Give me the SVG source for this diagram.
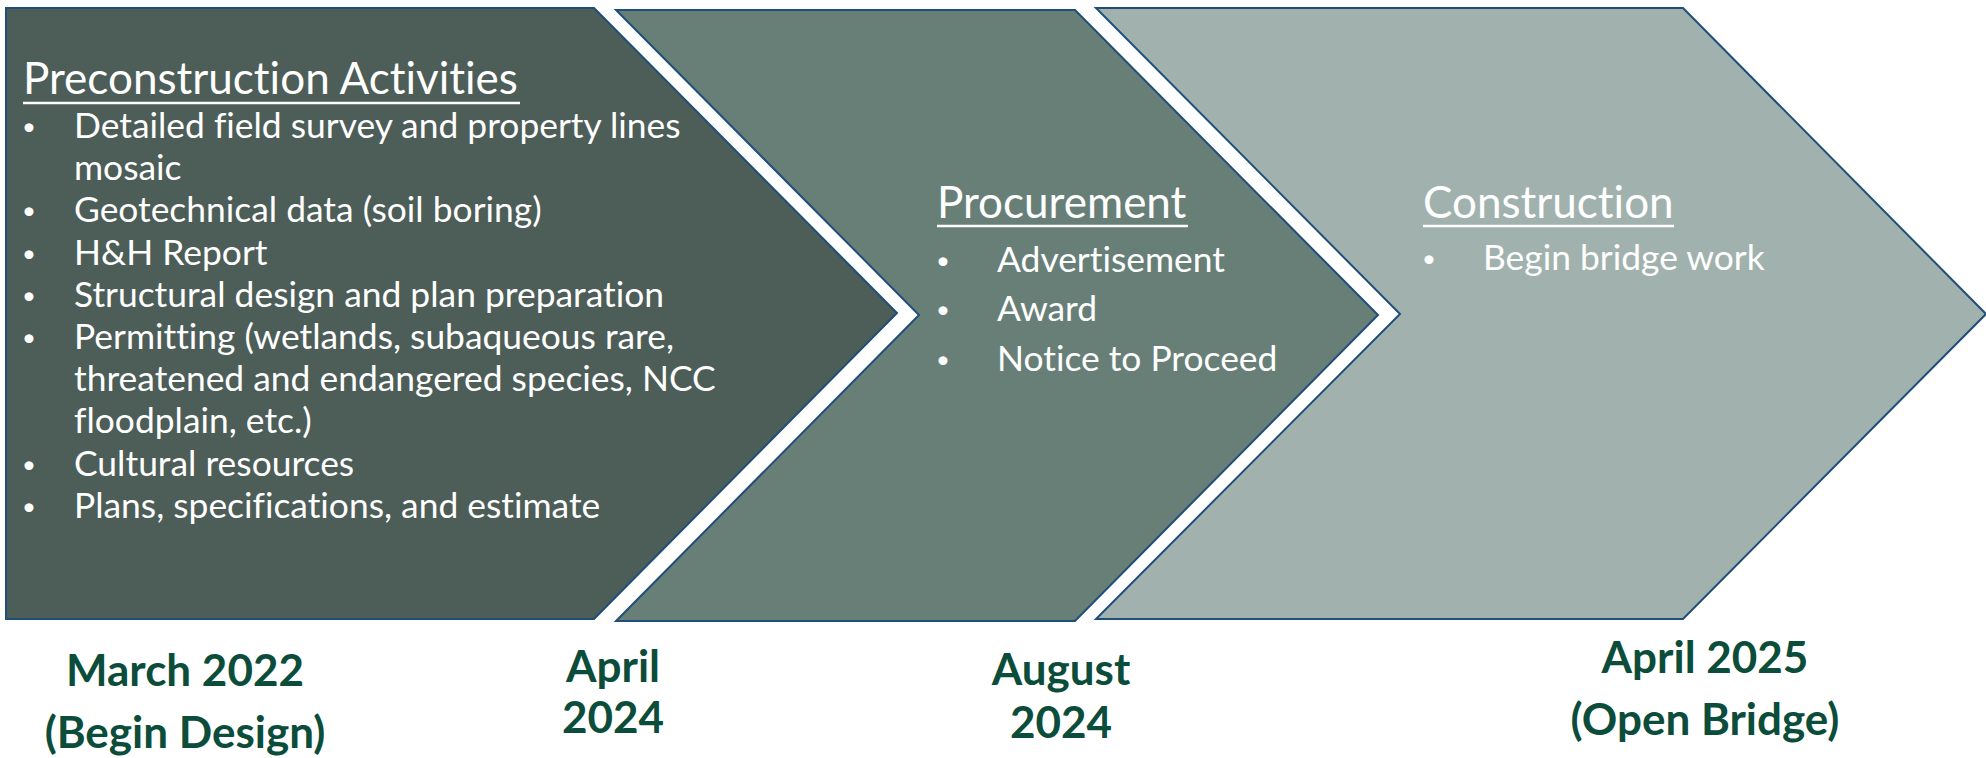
<svg xmlns="http://www.w3.org/2000/svg" width="1986" height="758" viewBox="0 0 1986 758">
<style>
.chev{stroke:#1f4e79;stroke-width:2;stroke-linejoin:miter}
.t{font-family:Lato,"Liberation Sans",sans-serif;fill:#ffffff;font-variant-ligatures:none;font-feature-settings:"liga" 0}
.h{font-size:44px}
.b{font-size:35.4px}
.bu{font-size:24px;text-anchor:middle}
.ul{stroke:#ffffff;stroke-width:2.5}
.d{font-family:Lato,"Liberation Sans",sans-serif;font-weight:700;font-size:44px;fill:#0b4d3a;text-anchor:middle}
</style>
<rect width="1986" height="758" fill="#ffffff"/>
<g id="preconstruction">
<path class="chev" fill="#4d5d58" d="M6,8 L594,8 L897,313 L594,619 L6,619 Z"/>
<text class="t h" x="23" y="94">Preconstruction Activities</text>
<line class="ul" x1="23" y1="103" x2="520" y2="103"/>
<g class="t b">
<text class="bu" x="29" y="135">•</text><text x="74" y="138">Detailed field survey and property lines</text>
<text x="74" y="180">mosaic</text>
<text class="bu" x="29" y="219">•</text><text x="74" y="222">Geotechnical data (soil boring)</text>
<text class="bu" x="29" y="262">•</text><text x="74" y="265">H&amp;H Report</text>
<text class="bu" x="29" y="304">•</text><text x="74" y="307">Structural design and plan preparation</text>
<text class="bu" x="29" y="346">•</text><text x="74" y="349">Permitting (wetlands, subaqueous rare,</text>
<text x="74" y="391">threatened and endangered species, NCC</text>
<text x="74" y="433">floodplain, etc.)</text>
<text class="bu" x="29" y="473">•</text><text x="74" y="476">Cultural resources</text>
<text class="bu" x="29" y="515">•</text><text x="74" y="518">Plans, specifications, and estimate</text>
</g>
</g>
<g id="procurement">
<path class="chev" fill="#687f78" d="M616,10 L1075,10 L1378,315 L1075,621 L616,621 L919,315 Z"/>
<text class="t h" x="937" y="218">Procurement</text>
<line class="ul" x1="937" y1="226" x2="1188" y2="226"/>
<g class="t b">
<text class="bu" x="943" y="269">•</text><text x="997" y="272">Advertisement</text>
<text class="bu" x="943" y="318">•</text><text x="997" y="321">Award</text>
<text class="bu" x="943" y="368">•</text><text x="997" y="371">Notice to Proceed</text>
</g>
</g>
<g id="construction">
<path class="chev" fill="#a1b2ae" d="M1096,8 L1683,8 L1986,314 L1683,619 L1096,619 L1400,314 Z"/>
<text class="t h" x="1423" y="218">Construction</text>
<line class="ul" x1="1423" y1="226" x2="1674" y2="226"/>
<g class="t b">
<text class="bu" x="1429" y="267">•</text><text x="1483" y="270">Begin bridge work</text>
</g>
</g>
<g id="connectors"></g>
<g id="date-march-2022">
<text class="d" x="185" y="686">March 2022</text>
<text class="d" x="185" y="748">(Begin Design)</text>
</g>
<g id="date-april-2024">
<text class="d" x="613" y="682">April</text>
<text class="d" x="613" y="733">2024</text>
</g>
<g id="date-august-2024">
<text class="d" x="1061" y="685">August</text>
<text class="d" x="1061" y="738">2024</text>
</g>
<g id="date-april-2025">
<text class="d" x="1705" y="673">April 2025</text>
<text class="d" x="1705" y="735">(Open Bridge)</text>
</g>
</svg>
